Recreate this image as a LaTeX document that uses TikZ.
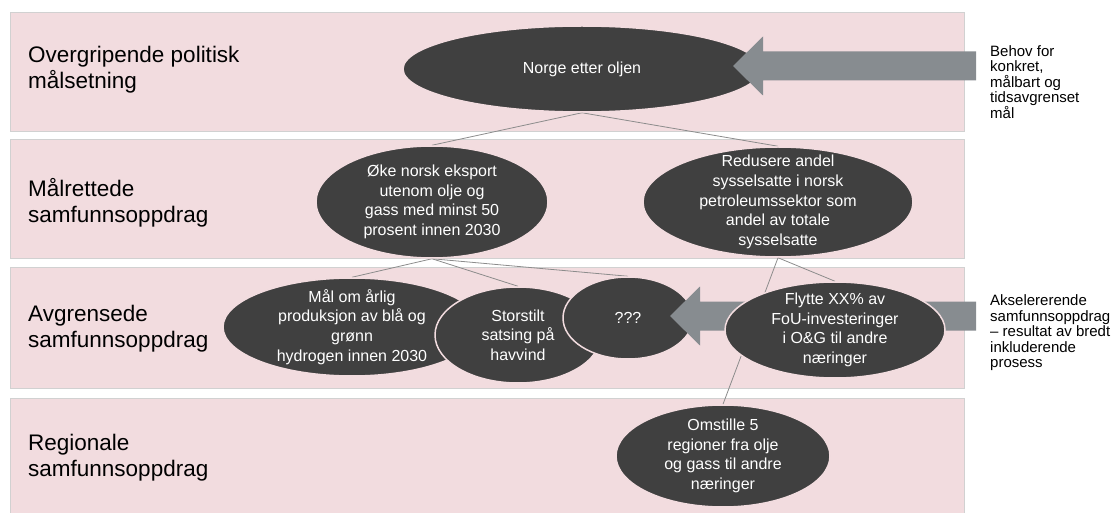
\documentclass[tikz,border=0pt]{standalone}
\usepackage{fontspec}
\setmainfont{Liberation Sans}
\usetikzlibrary{shapes.geometric}
\definecolor{bandpink}{RGB}{242,220,223}
\definecolor{darkell}{RGB}{64,64,64}
\definecolor{arrowgray}{RGB}{135,140,144}
\definecolor{linkgray}{RGB}{140,140,140}
\pgfdeclarelayer{bands}
\pgfdeclarelayer{links}
\pgfsetlayers{bands,links,main}

\begin{document}
\begin{tikzpicture}[x=1pt,y=-1pt,
    band/.style={fill=bandpink,draw=black!18,line width=1pt},
    tier/.style={anchor=west,align=left,inner sep=0pt,font=\fontsize{22.5}{26}\selectfont},
    goal/.style={ellipse,fill=darkell,draw=bandpink,line width=1.5pt,inner sep=0pt},
    goaltext/.style={text=white,align=center,inner sep=0pt,font=\fontsize{16}{19.6}\selectfont},
    note/.style={anchor=west,align=left,inner sep=0pt,font=\fontsize{15}{15.5}\selectfont},
    link/.style={draw=linkgray,line width=0.8pt},
    blockarrow/.style={fill=arrowgray}]
	\useasboundingbox (0,0) rectangle (1114,513);
	\begin{pgfonlayer}{bands}
		\foreach \ya/\yb in {13/132,140/259,268/388,398/516}
			\draw[band] (10,\ya) rectangle (964,\yb);
	\end{pgfonlayer}
	\node[tier] (tier1) at (28,70) {Overgripende politisk\\målsetning};
	\node[tier] (tier2) at (28,203) {Målrettede\\samfunnsoppdrag};
	\node[tier] (tier3) at (28,329) {Avgrensede\\samfunnsoppdrag};
	\node[tier] (tier4) at (28,458) {Regionale\\samfunnsoppdrag};
	\node[goal,minimum width=358,minimum height=86,label={[goaltext]center:Norge etter oljen}] (norge) at (582,69) {};
	\node[goal,minimum width=232,minimum height=112,label={[goaltext]center:{Øke norsk eksport\\utenom olje og\\gass med minst 50\\prosent innen 2030}}] (eksport) at (432,202) {};
	\node[goal,minimum width=270,minimum height=110,label={[goaltext]center:{Redusere andel\\sysselsatte i norsk\\petroleumssektor som\\andel av totale\\sysselsatte}}] (sysselsatte) at (778,202) {};
	\node[goal,minimum width=258,minimum height=98,label={[goaltext]center:{Mål om årlig\\produksjon av blå og\\grønn\\hydrogen innen 2030}}] (hydrogen) at (352,327) {};
	\node[goal,minimum width=166,minimum height=96,label={[goaltext]center:{Storstilt\\satsing på\\havvind}}] (havvind) at (518,335) {};
	\node[goal,minimum width=130,minimum height=82,label={[goaltext]center:???}] (ukjent) at (628,318) {};
	\foreach \tip/\ym in {733/66,670/316}
		\fill[blockarrow] (976,\ym-14.5) -- (\tip+30,\ym-14.5) -- (\tip+30,\ym-29.5) -- (\tip,\ym)
			-- (\tip+30,\ym+29.5) -- (\tip+30,\ym+14.5) -- (976,\ym+14.5) -- cycle;
	\node[goal,minimum width=220,minimum height=96,label={[goaltext]center:{Flytte XX\% av\\FoU-investeringer\\i O\&G til andre\\næringer}}] (fou) at (835,330) {};
	\node[goal,minimum width=214,minimum height=102,label={[goaltext]center:{Omstille 5\\regioner fra olje\\og gass til andre\\næringer}}] (regioner) at (723,456) {};
	\node[note] (behov) at (990,82) {Behov for\\konkret,\\målbart og\\tidsavgrenset\\mål};
	\node[note] (akselererende) at (990,333) {Akselererende\\samfunnsoppdrag\\– resultat av bredt\\inkluderende\\prosess};
	\begin{pgfonlayer}{links}
		\foreach \src/\dst in {norge/eksport,norge/sysselsatte,eksport/hydrogen,eksport/havvind,eksport/ukjent,sysselsatte/fou,sysselsatte/regioner}
			\draw[link] (\src.south) -- (\dst.north);
	\end{pgfonlayer}
\end{tikzpicture}
\end{document}
